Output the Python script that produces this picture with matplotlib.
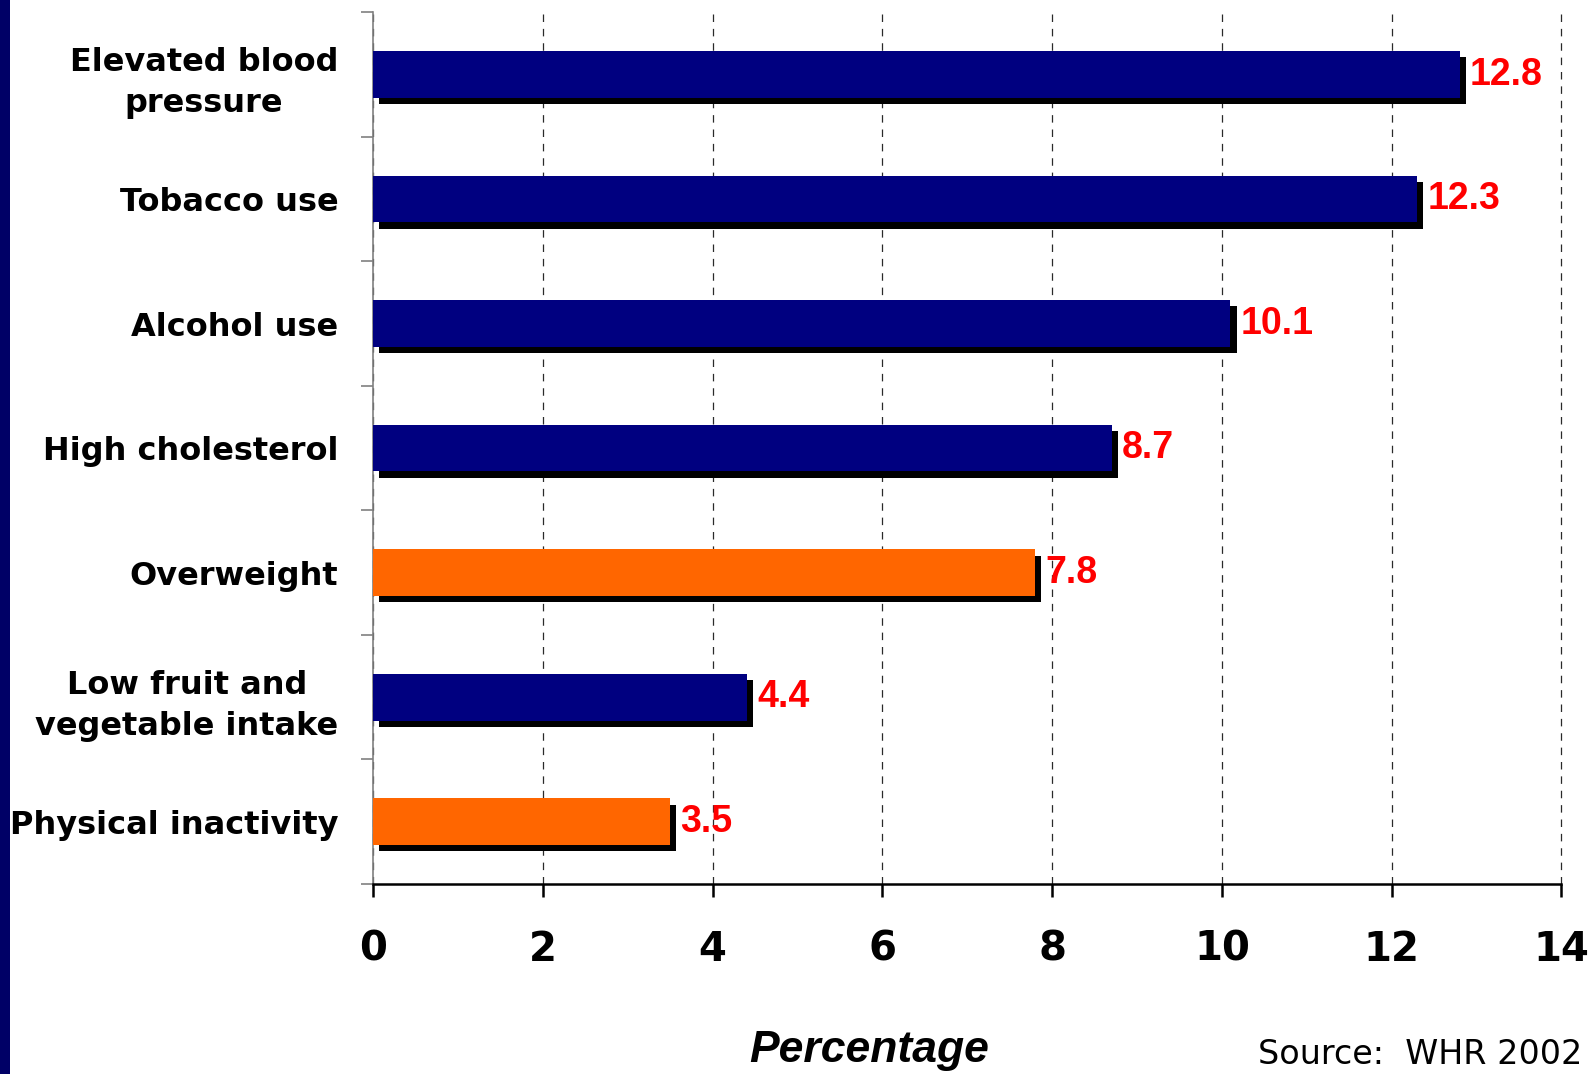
import matplotlib
matplotlib.use("Agg")
import matplotlib.pyplot as plt
import matplotlib.patheffects as pe
from matplotlib.patches import Rectangle
from matplotlib.ticker import FixedLocator

plt.rcParams['font.family'] = ['Liberation Sans', 'DejaVu Sans']

# Attributable share of deaths by risk factor (%)
categories = [
    "Elevated blood\npressure",
    "Tobacco use",
    "Alcohol use",
    "High cholesterol",
    "Overweight",
    "Low fruit and\nvegetable intake",
    "Physical inactivity",
]
values = [12.8, 12.3, 10.1, 8.7, 7.8, 4.4, 3.5]
bar_colors = ["#000080", "#000080", "#000080", "#000080",
              "#FF6600", "#000080", "#FF6600"]
x_ticks = [0, 2, 4, 6, 8, 10, 12, 14]

WIDE = ['DejaVu Sans']

fig = plt.figure(figsize=(15.93, 10.74), dpi=100)
fig.patch.set_facecolor("white")

# navy stripe down the left edge
fig.patches.append(Rectangle((0, 0), 10 / 1593, 1, transform=fig.transFigure,
                             facecolor="#000066", edgecolor="none", zorder=0))

ax = fig.add_axes([0.2342, 0.1769, 0.7460, 0.8117])

ypos = list(range(len(categories)))
bars = ax.barh(ypos, values, height=0.375, color=bar_colors, zorder=3)
for b in bars:
    b.set_path_effects([
        pe.SimplePatchShadow(offset=(4.5, -4.5), shadow_rgbFace="black", alpha=1.0),
        pe.Normal(),
    ])

for y, v in zip(ypos, values):
    ax.annotate(f"{v}", xy=(v, y), xytext=(7.5, 0), textcoords="offset points",
                ha="left", va="center", color="#FF0000", fontsize=27,
                fontweight="bold", zorder=5)

ax.set_xlim(0, 14)
ax.set_ylim(len(categories) - 0.5, -0.5)

ax.set_xticks(x_ticks)
ax.set_xticklabels([str(t) for t in x_ticks], fontsize=29, fontweight="bold",
                   family=WIDE)
ax.tick_params(axis="x", direction="out", length=9, width=1.8, color="black", pad=24)

ax.set_yticks(ypos)
ax.set_yticklabels(categories, fontsize=23, fontweight="bold", family=WIDE,
                   multialignment="center", linespacing=1.42)
ax.tick_params(axis="y", which="major", length=0, pad=25)
ax.yaxis.set_minor_locator(FixedLocator([i - 0.5 for i in range(len(categories) + 1)]))
ax.tick_params(axis="y", which="minor", direction="out", length=9, width=1.2, color="#808080")

ax.xaxis.grid(True, linestyle=(0, (6, 5.5)), color="#2a2a2a", linewidth=0.9)
ax.set_axisbelow(True)
for gl in ax.get_xgridlines():
    gl.set_clip_on(False)

for s in ("top", "right"):
    ax.spines[s].set_visible(False)
ax.spines["left"].set_color("#808080")
ax.spines["left"].set_linewidth(1.2)
ax.spines["bottom"].set_color("black")
ax.spines["bottom"].set_linewidth(1.8)

fig.text(869 / 1593, 1 - 1062 / 1074, "Percentage", ha="center", va="baseline",
         fontsize=32, fontweight="bold", fontstyle="italic")
fig.text(1582 / 1593, 1 - 1064 / 1074, "Source:  WHR 2002", ha="right", va="baseline",
         fontsize=24, family=WIDE)

fig.savefig("out.png", dpi=100, facecolor="white")
